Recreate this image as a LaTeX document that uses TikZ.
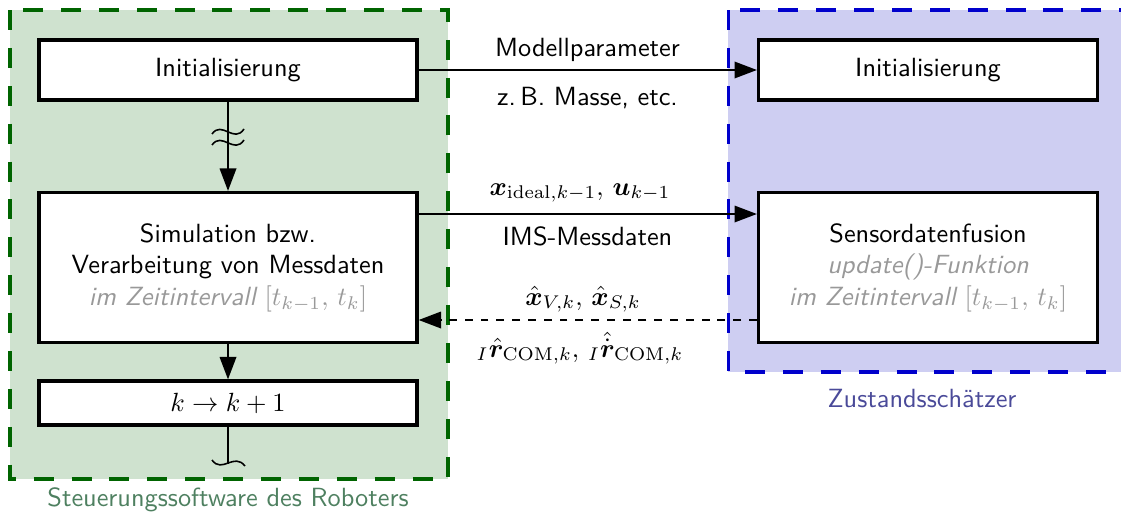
\documentclass[tikz,border=0pt]{standalone}
\usepackage{amsmath,amssymb}
\usepackage{bm}
\usetikzlibrary{arrows.meta,calc}
\definecolor{ctrlfill}{RGB}{207,226,207}
\definecolor{ctrlline}{RGB}{0,100,0}
\definecolor{ctrltext}{RGB}{78,128,96}
\definecolor{estfill}{RGB}{206,206,242}
\definecolor{estline}{RGB}{0,0,204}
\definecolor{esttext}{RGB}{74,74,153}
\definecolor{notegray}{RGB}{153,153,153}
\tikzset{
  procbox/.style={draw=black, line width=1.25pt, fill=white, align=center,
    inner sep=0pt, font=\sffamily},
  arr/.style={line width=0.6pt, -{Triangle[length=8.5pt,width=6.3pt]}},
  lbl/.style={font=\sffamily, anchor=base, inner sep=0pt},
  regionframe/.style={line width=1.15pt, dash pattern=on 7.6pt off 6.8pt},
  squiggle/.style={line width=0.6pt},
}
\newcommand{\gnote}[1]{{\color{notegray}\itshape #1}}
\begin{document}
\begin{tikzpicture}[x=0.38pt,y=-0.38pt]
\useasboundingbox (0,0) rectangle (1121,523);

% regions
\fill[ctrlfill] (10,10) rectangle (448,479);
\draw[regionframe, ctrlline] (10,10) rectangle (448,479);
\fill[estfill] (728,10) rectangle (1140,372);
\draw[regionframe, estline] (728,10) rectangle (1140,372);

\node[lbl, text=ctrltext] (ctrllabel) at (228,506) {Steuerungssoftware des Roboters};
\node[lbl, text=esttext] (estlabel) at (922,407) {Zustandsschätzer};

% process boxes
\node[procbox, minimum width=143.64pt, minimum height=22.8pt] (init1) at (228,70) {Initialisierung};
\node[procbox, minimum width=128.82pt, minimum height=22.8pt] (init2) at (928,70) {Initialisierung};
\node[procbox, minimum width=143.64pt, minimum height=57pt] (sim) at (228,267.5)
  {Simulation bzw.\\Verarbeitung von Messdaten\\\gnote{im Zeitintervall $[t_{k-1},\,t_k]$}};
\node[procbox, minimum width=128.82pt, minimum height=57pt] (fusion) at (928,267.5)
  {Sensordatenfusion\\\gnote{update()-Funktion}\\\gnote{im Zeitintervall $[t_{k-1},\,t_k]$}};
\node[procbox, minimum width=143.64pt, minimum height=16.72pt] (kbox) at (228,403) {$k \rightarrow k+1$};

% horizontal connectors
\draw[arr] (init1.east) -- (init2.west);
\node[lbl] (modpar) at (587.5,56) {Modellparameter};
\node[lbl] (masse) at (587.5,105) {z.\,B. Masse, etc.};

\draw[arr] ([yshift=20.33pt]sim.east) -- ([yshift=20.33pt]fusion.west);
\node[lbl] (xu) at (580,195) {$\bm{x}_{\mathrm{ideal},k-1},\,\bm{u}_{k-1}$};
\node[lbl] (ims) at (587.5,245) {IMS-Messdaten};

\draw[arr, dashed] ([yshift=-19.95pt]fusion.west) -- ([yshift=-19.95pt]sim.east);
\node[lbl] (xhat) at (583,305) {$\hat{\bm{x}}_{V,k},\,\hat{\bm{x}}_{S,k}$};
\node[lbl] (rhat) at (580,357) {${}_{I}\hat{\bm{r}}_{\mathrm{COM},k},\,{}_{I}\hat{\dot{\bm{r}}}_{\mathrm{COM},k}$};

% vertical connectors
\draw[arr] (init1.south) -- (sim.north);
\draw[squiggle] (212,134) .. controls (222,120) and (234,144) .. (244,129);
\draw[squiggle] (212,145) .. controls (222,131) and (234,155) .. (244,140);
\draw[arr] (sim.south) -- (kbox.north);
\coordinate (loopend) at (228,464);
\draw[line width=0.6pt] (kbox.south) -- (loopend);
\draw[squiggle] (212,460) .. controls (222,474) and (234,452) .. (245,466);
\end{tikzpicture}
\end{document}
